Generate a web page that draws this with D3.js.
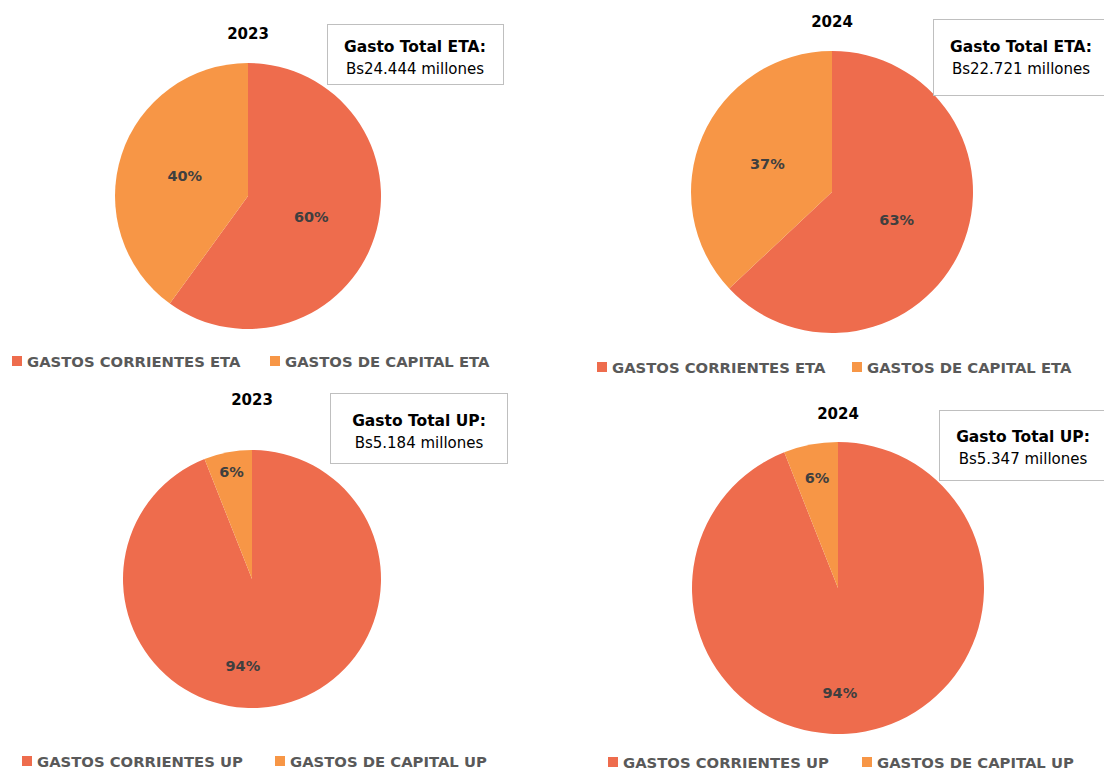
<!DOCTYPE html>
<html>
<head>
<meta charset="utf-8">
<script src="https://cdn.jsdelivr.net/npm/d3@7"></script>
<style>
  body { margin: 0; background: #fff; }
  text { font-family: "DejaVu Sans", sans-serif; }
</style>
</head>
<body>
<script>
// datos de las cuatro tortas
const years = ["2023", "2024", "2023", "2024"];
const groups = ["ETA", "ETA", "UP", "UP"];
const categories = ["GASTOS CORRIENTES", "GASTOS DE CAPITAL"];
const corrientesPct = [60, 63, 94, 94];
const capitalPct = [40, 37, 6, 6];
const totales = ["Bs24.444 millones", "Bs22.721 millones", "Bs5.184 millones", "Bs5.347 millones"];

const colors = ["#EE6C4D", "#F79646"];

// posiciones de cada panel
const layout = [
  {cx: 248, cy: 196, r: 133, titleY: 39,
   box: [327, 24, 176, 60], textX: 415, line1: 52, line2: 74,
   legY: 356, legX: [12, 270],
   labels: [[0.5, null], [0.5, null]]},
  {cx: 832, cy: 192, r: 141, titleY: 27,
   box: [933, 19, 175, 76], textX: 1021, line1: 52, line2: 74,
   legY: 362, legX: [597, 852],
   labels: [[0.5, null], [0.5, null]]},
  {cx: 252, cy: 579, r: 129, titleY: 405,
   box: [330, 393, 177, 70], textX: 419, line1: 426, line2: 448,
   legY: 756, legX: [22, 275],
   labels: [[0.68, 186], [0.85, null]]},
  {cx: 838, cy: 588, r: 146, titleY: 419,
   box: [939, 410, 170, 70], textX: 1023, line1: 442, line2: 464,
   legY: 757, legX: [608, 862],
   labels: [[0.72, 179], [0.77, null]]}
];

function main(){
    const width = 1104;
    const height = 772;

    const svg = d3.select('body')
        .append('svg')
        .attr('width', width)
        .attr('height', height);

    const pie = d3.pie().sort(null).value(d => d);

    years.forEach((year, i) => {
        const L = layout[i];
        const values = [corrientesPct[i], capitalPct[i]];
        const arcs = pie(values);
        const arc = d3.arc().innerRadius(0).outerRadius(L.r);

        const g = svg.append('g')
            .attr('transform', `translate(${L.cx},${L.cy})`);

        g.selectAll('path')
            .data(arcs)
            .enter()
            .append('path')
            .attr('d', arc)
            .attr('fill', (d, j) => colors[j]);

        // etiquetas de porcentaje
        const labelAngle = (d, j) => {
            const lp = L.labels[j];
            return lp[1] === null ? (d.startAngle + d.endAngle) / 2 : lp[1] * Math.PI / 180;
        };
        g.selectAll('.pct')
            .data(arcs)
            .enter()
            .append('text')
            .attr('class', 'pct')
            .attr('x', (d, j) => Math.sin(labelAngle(d, j)) * L.r * L.labels[j][0])
            .attr('y', (d, j) => -Math.cos(labelAngle(d, j)) * L.r * L.labels[j][0])
            .attr('dy', '0.36em')
            .attr('text-anchor', 'middle')
            .attr('font-size', 14.5)
            .attr('font-weight', 'bold')
            .attr('fill', '#3F3F3F')
            .text(d => d.data + '%');

        // titulo
        svg.append('text')
            .attr('x', L.cx)
            .attr('y', L.titleY)
            .attr('text-anchor', 'middle')
            .attr('font-size', 15)
            .attr('font-weight', 'bold')
            .attr('fill', '#000')
            .text(year);

        // cuadro de gasto total
        const b = L.box;
        svg.append('rect')
            .attr('x', b[0] + 0.5)
            .attr('y', b[1] + 0.5)
            .attr('width', b[2])
            .attr('height', b[3])
            .attr('fill', '#fff')
            .attr('stroke', '#BFBFBF');
        svg.append('text')
            .attr('x', L.textX)
            .attr('y', L.line1)
            .attr('text-anchor', 'middle')
            .attr('font-size', 15.5)
            .attr('font-weight', 'bold')
            .attr('fill', '#000')
            .text('Gasto Total ' + groups[i] + ':');
        svg.append('text')
            .attr('x', L.textX)
            .attr('y', L.line2)
            .attr('text-anchor', 'middle')
            .attr('font-size', 15)
            .attr('fill', '#000')
            .text(totales[i]);

        // leyenda
        categories.forEach((c, j) => {
            svg.append('rect')
                .attr('x', L.legX[j])
                .attr('y', L.legY)
                .attr('width', 10)
                .attr('height', 10)
                .attr('fill', colors[j]);
            svg.append('text')
                .attr('x', L.legX[j] + 15)
                .attr('y', L.legY + 11)
                .attr('font-size', 14.8)
                .attr('font-weight', 'bold')
                .attr('fill', '#595959')
                .text(c + ' ' + groups[i]);
        });
    });
}

main();
</script>
</body>
</html>
